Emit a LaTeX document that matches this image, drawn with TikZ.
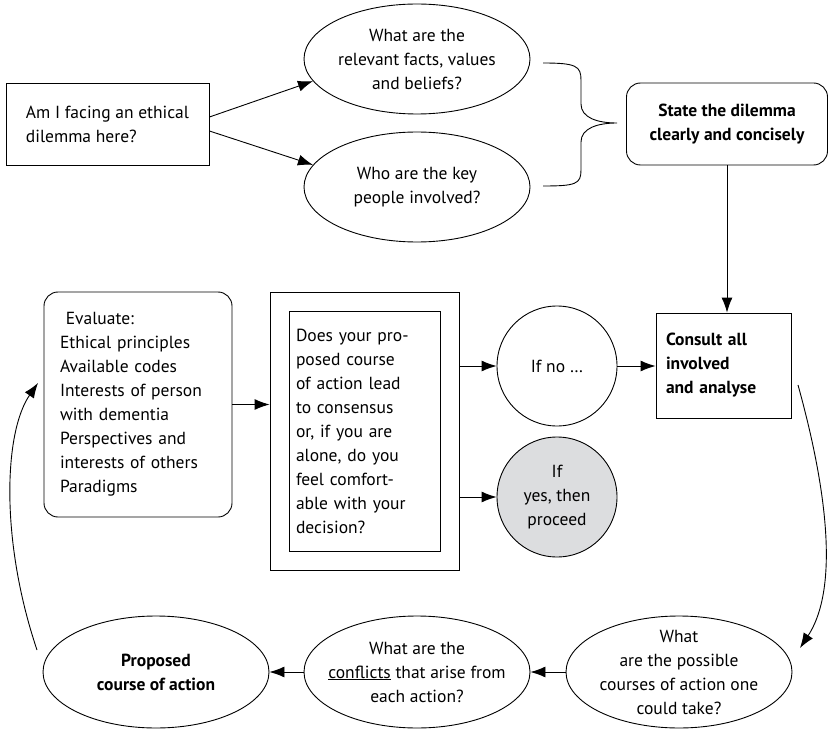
\documentclass[tikz,border=0pt]{standalone}
\usepackage{fontspec}
\setmainfont{PT Sans}
\usepackage{tikz}
\usetikzlibrary{positioning}
\usetikzlibrary{shapes.geometric}
\usetikzlibrary{arrows.meta}
\usetikzlibrary{calc}
\usepackage{xcolor}
\definecolor{yesgrey}{RGB}{220,221,223}
\newcommand{\diafont}{\fontsize{17.5}{24}\selectfont}

\begin{document}
\begin{tikzpicture}[
    % one unit = one pixel of the layout, y runs downwards
    x=1pt, y=-1pt,
    line width=0.9pt,
    font=\diafont,
    arr/.style={-{Latex[length=15pt,width=11pt]}},
    plainbox/.style={draw, rectangle, align=left},
    roundbox/.style={draw, rectangle, rounded corners=14pt, align=left},
    oval/.style={draw, ellipse, align=center, inner sep=-16pt,
        minimum width=226, minimum height=112},
    disc/.style={draw, circle, align=center, inner sep=0pt, minimum size=120}
]
    \useasboundingbox (0,0) rectangle (830,730);

    % Top row
    \node[plainbox, minimum width=203, minimum height=82] (start) at (107.5,124)
        {Am I facing an ethical\\dilemma here?};
    \node[oval, minimum height=110] (facts) at (417,59)
        {What are the\\relevant facts, values\\and beliefs?};
    \node[oval, minimum height=110] (people) at (417,187)
        {Who are the key\\people involved?};
    \node[roundbox, align=center, font=\diafont\bfseries,
        minimum width=201, minimum height=82] (dilemma) at (727,124)
        {State the dilemma\\clearly and concisely};

    \draw[arr] ([yshift=7pt]start.east) -- (facts.192);
    \draw[arr] ([yshift=-7pt]start.east) -- (people.168);

    % Brace
    \draw (543,63) .. controls (576,63) and (581,66) .. (581,80) -- (581,104)
        .. controls (581,118) and (598,123) .. (617,123)
        .. controls (598,123) and (581,128) .. (581,142) -- (581,170)
        .. controls (581,184) and (576,186) .. (543,186);

    % Middle row
    \node[roundbox, minimum width=188, minimum height=225, text width=156,
        inner xsep=16pt] (evaluate) at (138,404.5)
        {\ Evaluate:\\Ethical principles\\Available codes\\Interests of person\\with dementia\\Perspectives and\\interests of others\\Paradigms};
    \node[plainbox, minimum width=189, minimum height=278] (check) at (364.5,431) {};
    \node[plainbox, minimum width=151, minimum height=240, text width=137,
        inner xsep=7pt] (question) at (364.5,431)
        {Does your pro-\\posed course\\of action lead\\to consensus\\or, if you are\\alone, do you\\feel comfort-\\able with your\\decision?};
    \node[disc] (ifno) at (557,366) {If no …};
    \node[disc, fill=yesgrey] (ifyes) at (557,497) {If\\yes, then\\proceed};
    \node[plainbox, font=\diafont\bfseries, minimum width=135, minimum height=105,
        text width=115, inner xsep=10pt] (consult) at (723.5,365.5)
        {Consult all\\involved\\and analyse};

    \draw[arr] (dilemma.south) -- (dilemma.south |- consult.north);
    \draw[arr] (evaluate.east) -- (evaluate.east -| check.west);
    \draw[arr] (ifno -| check.east) -- (ifno.west);
    \draw[arr] (ifyes -| check.east) -- (ifyes.west);
    \draw[arr] (ifno.east) -- (ifno.east -| consult.west);

    % Bottom row
    \node[oval, font=\diafont\bfseries] (proposal) at (156,672)
        {Proposed\\course of action};
    \node[oval] (conflicts) at (417,672)
        {What are the\\\underline{conflicts} that arise from\\each action?};
    \node[oval] (options) at (679,672)
        {What\\are the possible\\courses of action one\\could take?};

    \foreach \a/\b in {options/conflicts, conflicts/proposal} {
        \draw[arr] (\a.west) -- (\b.east);
    }

    % Loop back
    \coordinate (loopstart) at (798,385);
    \coordinate (loopend) at (800,648);
    \draw[arr] (loopstart) .. controls (816,450) and (846,578) .. (loopend);
    \coordinate (backstart) at (37,650);
    \coordinate (backend) at (38,383);
    \draw[arr] (backstart) .. controls (0,540) and (4,432) .. (backend);
\end{tikzpicture}
\end{document}
